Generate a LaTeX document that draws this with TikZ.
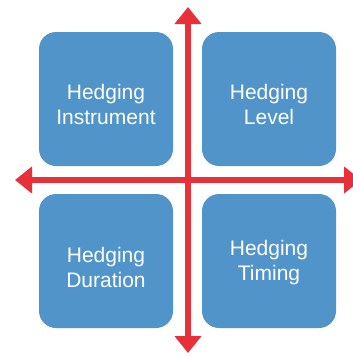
\documentclass[tikz,border=0pt]{standalone}
\usepackage{fontspec}
\setmainfont{Liberation Sans}
\usetikzlibrary{arrows.meta,positioning}
\definecolor{hgBlue}{HTML}{5094CA}
\definecolor{hgRed}{HTML}{E8303A}

\begin{document}
\begin{tikzpicture}[x=1pt,y=-1pt,font=\fontsize{21}{25}\selectfont,
  quad/.style={fill=hgBlue,rounded corners=17pt,minimum width=134pt,
               minimum height=134pt,inner sep=0pt},
  qtext/.style={align=center,text=white,inner sep=0pt},
  axis/.style={{Triangle[width=26pt,length=17pt]}-{Triangle[width=26pt,length=17pt]},
               hgRed,line width=6.5pt}]
\useasboundingbox (0,0) rectangle (353,356);
\clip (0,0) rectangle (353,356);
\node[quad,label={[qtext,yshift=-5pt]center:Hedging\\ Instrument}] (instr) at (106,99) {};
\node[quad,label={[qtext,yshift=-5pt]center:Hedging\\ Level}] (level) at (269,99) {};
\node[quad,label={[qtext,yshift=-6pt]center:Hedging\\ Duration}] (dur) at (106,261) {};
\node[quad,label={[qtext,yshift=-2pt]center:Hedging\\ Timing}] (timing) at (269,261) {};
\coordinate (top) at (188,7);
\coordinate (bottom) at (188,353);
\coordinate (left) at (15,180);
\coordinate (right) at (361,180);
\draw[axis] (left) -- (right);
\draw[axis] (top) -- (bottom);
\end{tikzpicture}
\end{document}
